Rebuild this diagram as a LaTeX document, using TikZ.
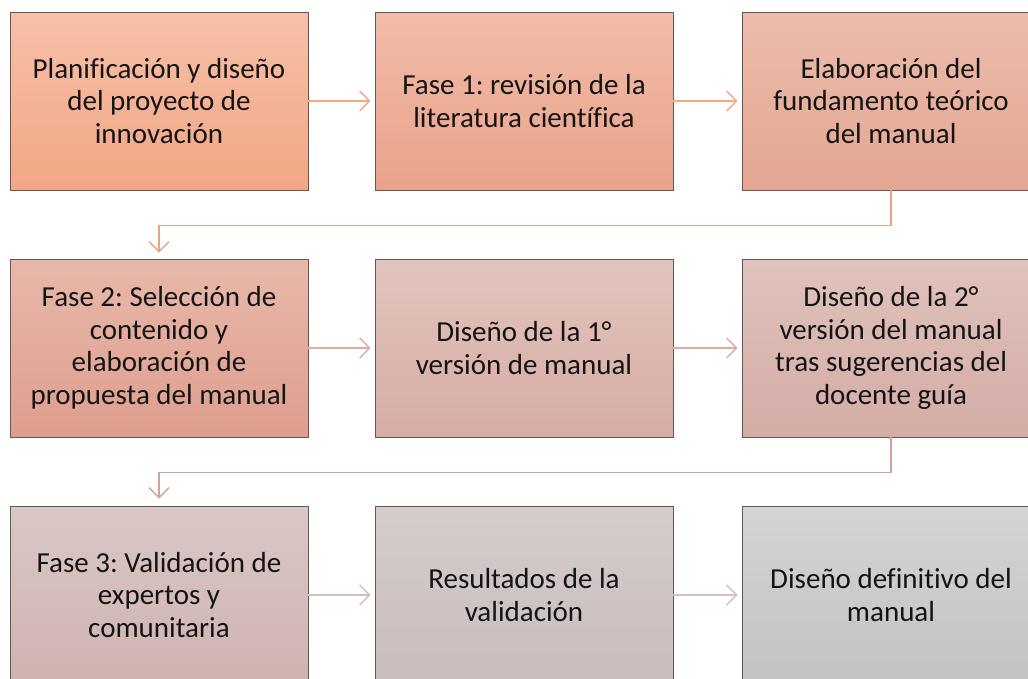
\documentclass[tikz,border=0pt]{standalone}
\usepackage{fontspec}
\setmainfont{Carlito}[Ligatures=NoCommon]
\frenchspacing
\usetikzlibrary{arrows.meta,positioning}
\definecolor{t1}{RGB}{246,192,168}\definecolor{b1}{RGB}{243,166,132}
\definecolor{t2}{RGB}{241,188,168}\definecolor{b2}{RGB}{234,162,137}
\definecolor{t3}{RGB}{236,188,172}\definecolor{b3}{RGB}{227,166,145}
\definecolor{t4}{RGB}{232,184,170}\definecolor{b4}{RGB}{222,158,142}
\definecolor{t5}{RGB}{226,196,188}\definecolor{b5}{RGB}{214,172,164}
\definecolor{t6}{RGB}{224,194,188}\definecolor{b6}{RGB}{212,172,166}
\definecolor{t7}{RGB}{218,200,198}\definecolor{b7}{RGB}{206,178,176}
\definecolor{t8}{RGB}{214,204,204}\definecolor{b8}{RGB}{200,188,188}
\definecolor{t9}{RGB}{212,212,212}\definecolor{b9}{RGB}{194,194,194}
\definecolor{a1}{RGB}{246,170,132}
\definecolor{a2}{RGB}{236,160,136}
\definecolor{a3}{RGB}{226,172,162}
\definecolor{a4}{RGB}{212,160,156}
\definecolor{a5}{RGB}{212,190,190}
\definecolor{bordercol}{RGB}{100,88,84}
\tikzset{
  stepbox/.style={draw=bordercol, line width=0.9pt, minimum width=298pt, minimum height=178pt,
    align=center, inner sep=0pt, font=\fontsize{29pt}{32.5pt}\selectfont, text=black!92},
  conn/.style={line width=1.4pt, -{Straight Barb[length=10pt,width=20pt,line width=1.4pt]}, shorten >=4pt}
}
\begin{document}
\begin{tikzpicture}[x=1pt,y=1pt]
\useasboundingbox (0,0) rectangle (1028,-678);
\clip (0,0) rectangle (1028,-678);
\fill[white] (0,0) rectangle (1028,-678);
\node[stepbox, top color=t1, bottom color=b1] (n1) at (159,-101) {Planificación y diseño\\del proyecto de\\innovación};
\node[stepbox, top color=t2, bottom color=b2] (n2) at (524,-101) {Fase 1: revisión de la\\literatura científica};
\node[stepbox, top color=t3, bottom color=b3] (n3) at (891,-101) {Elaboración del\\fundamento teórico\\del manual};
\node[stepbox, top color=t4, bottom color=b4] (n4) at (159,-348) {Fase 2: Selección de\\contenido y\\elaboración de\\propuesta del manual};
\node[stepbox, top color=t5, bottom color=b5] (n5) at (524,-348) {Diseño de la 1°\\versión de manual};
\node[stepbox, top color=t6, bottom color=b6] (n6) at (891,-348) {Diseño de la 2°\\versión del manual\\tras sugerencias del\\docente guía};
\node[stepbox, top color=t7, bottom color=b7] (n7) at (159,-595) {Fase 3: Validación de\\expertos y\\comunitaria};
\node[stepbox, top color=t8, bottom color=b8] (n8) at (524,-595) {Resultados de la\\validación};
\node[stepbox, top color=t9, bottom color=b9] (n9) at (891,-595) {Diseño definitivo del\\manual};
\draw[conn, a1] (n1) -- (n2);
\draw[conn, a1] (n2) -- (n3);
\draw[conn, a2, shorten >=6pt] (n3.south) -- ++(0,-35) -| (n4.north);
\draw[conn, a3] (n4) -- (n5);
\draw[conn, a3] (n5) -- (n6);
\draw[conn, a4, shorten >=7pt] (n6.south) -- ++(0,-35) -| (n7.north);
\draw[conn, a5] (n7) -- (n8);
\draw[conn, a5] (n8) -- (n9);
\end{tikzpicture}
\end{document}
